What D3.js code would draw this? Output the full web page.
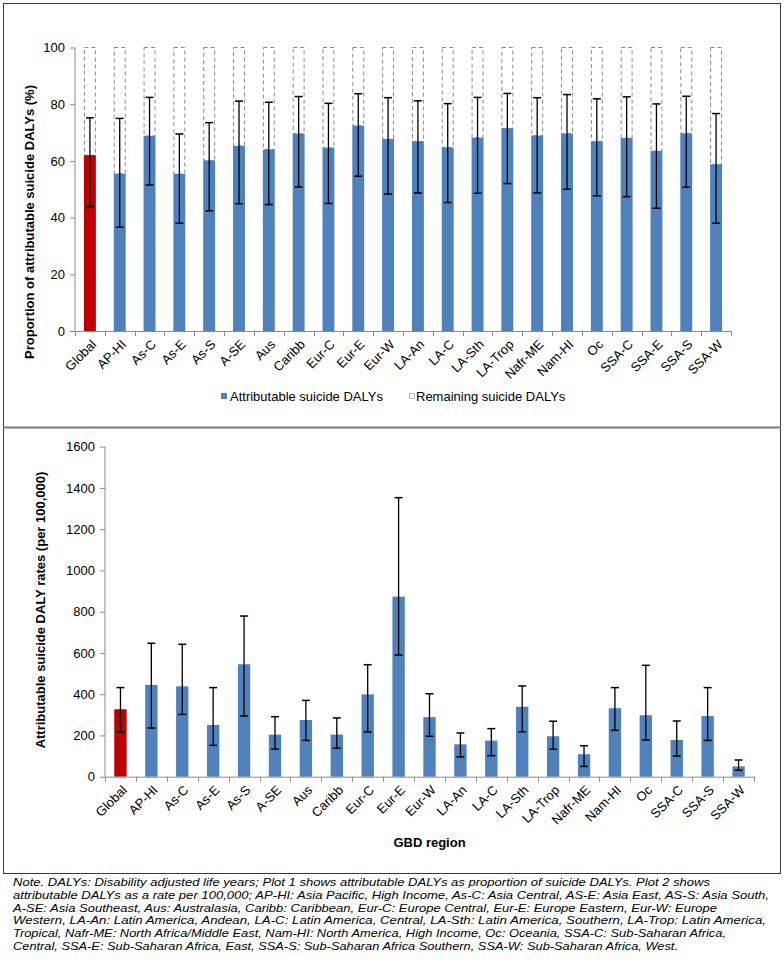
<!DOCTYPE html>
<html>
<head>
<meta charset="utf-8">
<script src="https://cdn.jsdelivr.net/npm/d3@7"></script>
<style>
  html, body { margin: 0; padding: 0; background: #fff; }
  svg { display: block; font-family: "Liberation Sans", Arial, sans-serif; }
</style>
</head>
<body>
<svg id="chart" width="784" height="966"></svg>
<script>
// ---------- DATA ----------
const propCategories = ["Global","AP-HI","As-C","As-E","As-S","A-SE","Aus","Caribb","Eur-C","Eur-E","Eur-W","LA-An","LA-C","LA-Sth","LA-Trop","Nafr-ME","Nam-HI","Oc","SSA-C","SSA-E","SSA-S","SSA-W"];
const attributableProp = [62.0,55.5,68.8,55.4,60.2,65.3,64.0,69.6,64.6,72.4,67.7,66.9,64.7,68.2,71.5,68.9,69.6,66.9,68.1,63.5,69.7,58.8];
const remainingProp    = [38.0,44.5,31.2,44.6,39.8,34.7,36.0,30.4,35.4,27.6,32.3,33.1,35.3,31.8,28.5,31.1,30.4,33.1,31.9,36.5,30.3,41.2];
const propLower = [43.9,36.6,51.5,38.0,42.4,44.9,44.6,50.8,45.0,54.6,48.3,48.7,45.3,48.6,52.0,48.7,50.0,47.7,47.4,43.3,50.7,38.0];
const propUpper = [75.2,75.0,82.4,69.5,73.5,81.1,80.7,82.7,80.3,83.7,82.3,81.2,80.2,82.4,83.8,82.3,83.4,81.9,82.6,80.1,82.8,76.7];
const propTicks = [0,20,40,60,80,100];

const rateCategories = ["Global","AP-HI","As-C","As-E","As-S","A-SE","Aus","Caribb","Eur-C","Eur-E","Eur-W","LA-An","LA-C","LA-Sth","LA-Trop","Nafr-ME","Nam-HI","Oc","SSA-C","SSA-S","SSA-W"];
const rateValues = [327,445,438,251,545,204,275,204,399,873,289,157,175,339,196,109,332,298,178,294,50];
const rateLower  = [215,236,302,152,294,134,176,138,217,590,196,96,102,218,133,50,225,178,100,176,31];
const rateUpper  = [432,647,642,432,779,291,370,285,543,1353,402,212,233,440,269,150,432,540,270,432,81];
const rateTicks = [0,200,400,600,800,1000,1200,1400,1600];

const legendLabels = ["Attributable suicide DALYs","Remaining suicide DALYs"];
const noteLines = [
  "Note. DALYs: Disability adjusted life years; Plot 1 shows attributable DALYs as proportion of suicide DALYs. Plot 2 shows",
  "attributable DALYs as a rate per 100,000; AP-HI: Asia Pacific, High Income, As-C: Asia Central, AS-E: Asia East, AS-S: Asia South,",
  "A-SE: Asia Southeast, Aus: Australasia, Caribb: Caribbean, Eur-C: Europe Central, Eur-E: Europe Eastern, Eur-W: Europe",
  "Western, LA-An: Latin America, Andean, LA-C: Latin America, Central, LA-Sth: Latin America, Southern, LA-Trop: Latin America,",
  "Tropical, Nafr-ME: North Africa/Middle East, Nam-HI: North America, High Income, Oc: Oceania, SSA-C: Sub-Saharan Africa,",
  "Central, SSA-E: Sub-Saharan Africa, East, SSA-S: Sub-Saharan Africa Southern, SSA-W: Sub-Saharan Africa, West."
];
const noteWidths = [697,756,704,753,713,665];

// ---------- STYLE ----------
const BLUE = "#4f81bd", RED = "#c00000", AXIS = "#8c8c8c";
const svg = d3.select("#chart");

// panel frames
svg.append("rect").attr("x",3.5).attr("y",3.5).attr("width",777).attr("height",870)
  .attr("fill","none").attr("stroke","#3a3a3a").attr("stroke-width",1);
svg.append("line").attr("x1",3).attr("x2",781).attr("y1",427.5).attr("y2",427.5)
  .attr("stroke","#7a7a7a").attr("stroke-width",2);

function drawPanel(opts) {
  const {cats, values, lower, upper, remaining, ticks, yMax, left, right, top, bottom,
         yTitle, yTitleX, yTitleY, xTitle} = opts;
  const x = d3.scaleBand().domain(cats).range([left, right]).paddingInner(0.6).paddingOuter(0.3);
  const y = d3.scaleLinear().domain([0, yMax]).range([bottom, top]);
  const step = x.step();
  const g = svg.append("g");

  // y axis
  const ya = g.append("g").attr("transform", `translate(${left},0)`)
    .call(d3.axisLeft(y).tickValues(ticks).tickFormat(d3.format("d")).tickSize(5).tickPadding(5));
  ya.select(".domain").attr("stroke", AXIS).attr("d", `M0,${bottom}V${top}`);
  ya.selectAll(".tick line").attr("stroke", AXIS);
  ya.selectAll(".tick text").attr("font-size", "13px").attr("fill", "#000")
    .attr("font-family", "Liberation Sans, Arial, sans-serif");

  // remaining (dashed) boxes
  if (remaining) {
    g.selectAll("rect.rem").data(cats).join("rect")
      .attr("x", d => x(d) + 0.5).attr("width", x.bandwidth() - 1)
      .attr("y", (d,i) => y(values[i] + remaining[i]))
      .attr("height", (d,i) => y(values[i]) - y(values[i] + remaining[i]))
      .attr("fill", "#fff").attr("stroke", "#8a8a8a").attr("stroke-width", 1)
      .attr("stroke-dasharray", "4,3");
  }

  // bars
  g.selectAll("rect.bar").data(cats).join("rect")
    .attr("x", d => x(d)).attr("width", x.bandwidth())
    .attr("y", (d,i) => y(values[i]))
    .attr("height", (d,i) => y(0) - y(values[i]))
    .attr("fill", (d,i) => i === 0 ? RED : BLUE);

  // x axis
  g.append("line").attr("x1", left).attr("x2", right).attr("y1", bottom + 0.5).attr("y2", bottom + 0.5)
    .attr("stroke", AXIS);
  d3.range(cats.length + 1).forEach(i => {
    const tx = Math.round(left + i * step) + 0.5;
    g.append("line").attr("x1", tx).attr("x2", tx).attr("y1", bottom).attr("y2", bottom + 5).attr("stroke", AXIS);
  });

  // error bars
  const eb = g.selectAll("g.err").data(cats).join("g");
  eb.append("line")
    .attr("x1", d => x(d) + x.bandwidth()/2).attr("x2", d => x(d) + x.bandwidth()/2)
    .attr("y1", (d,i) => y(lower[i])).attr("y2", (d,i) => y(upper[i]))
    .attr("stroke", "#000").attr("stroke-width", 1.3);
  [lower, upper].forEach(arr => {
    eb.append("line")
      .attr("x1", d => x(d) + x.bandwidth()/2 - 4).attr("x2", d => x(d) + x.bandwidth()/2 + 4)
      .attr("y1", (d,i) => y(arr[i])).attr("y2", (d,i) => y(arr[i]))
      .attr("stroke", "#000").attr("stroke-width", 1.5);
  });

  // x labels
  g.selectAll("text.xl").data(cats).join("text")
    .attr("transform", d => `translate(${x(d) + x.bandwidth()/2 + 4},${bottom + 11}) rotate(-45)`)
    .attr("text-anchor", "end").attr("dy", "0.35em")
    .attr("font-size", "13px").attr("fill", "#000")
    .text(d => d);

  // y title
  g.append("text")
    .attr("transform", `translate(${yTitleX},${yTitleY}) rotate(-90)`)
    .attr("text-anchor", "middle").attr("dy", "0.35em")
    .attr("font-size", "13px").attr("font-weight", "bold").text(yTitle);

  if (xTitle) {
    g.append("text").attr("x", (left + right)/2).attr("y", bottom + 70)
      .attr("text-anchor", "middle").attr("font-size", "13px").attr("font-weight", "bold").text(xTitle);
  }
  return {x, y};
}

drawPanel({
  cats: propCategories, values: attributableProp, lower: propLower, upper: propUpper,
  remaining: remainingProp, ticks: propTicks, yMax: 100,
  left: 75, right: 731, top: 47.5, bottom: 331,
  yTitle: "Proportion of attributable suicide DALYs (%)", yTitleX: 29, yTitleY: 222
});

drawPanel({
  cats: rateCategories, values: rateValues, lower: rateLower, upper: rateUpper,
  remaining: null, ticks: rateTicks, yMax: 1600,
  left: 105, right: 754, top: 446.7, bottom: 776.7,
  yTitle: "Attributable suicide DALY rates (per 100,000)", yTitleX: 40.5, yTitleY: 610,
  xTitle: "GBD region"
});

// legend (top panel)
const lg = svg.append("g");
lg.append("rect").attr("x", 221).attr("y", 393).attr("width", 6).attr("height", 6).attr("fill", BLUE);
lg.append("text").attr("x", 230).attr("y", 400.5).attr("font-size", "13px").text(legendLabels[0]);
lg.append("rect").attr("x", 409.5).attr("y", 393.5).attr("width", 5).attr("height", 5)
  .attr("fill", "#fff").attr("stroke", "#9a9a9a").attr("stroke-width", 1).attr("stroke-dasharray", "2,1");
lg.append("text").attr("x", 416).attr("y", 400.5).attr("font-size", "13px").text(legendLabels[1]);

// note
const nt = svg.append("g");
noteLines.forEach((line, i) => {
  nt.append("text").attr("x", 13).attr("y", 886 + i * 12.8)
    .attr("font-size", "11px").attr("font-style", "italic")
    .attr("textLength", noteWidths[i]).attr("lengthAdjust", "spacingAndGlyphs")
    .text(line);
});
</script>
</body>
</html>
